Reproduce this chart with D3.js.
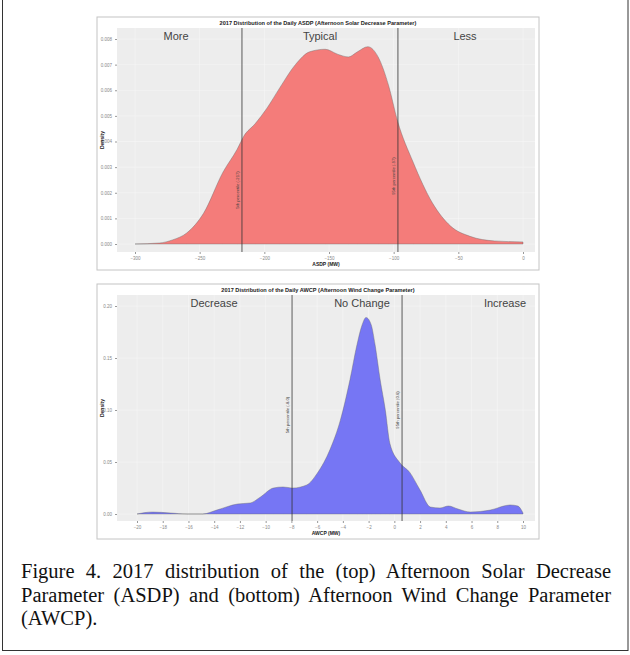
<!DOCTYPE html>
<html>
<head>
<meta charset="utf-8">
<script src="https://cdn.jsdelivr.net/npm/d3@7"></script>
<style>
  body { margin: 0; background: #fff; }
  svg { display: block; }
  .tick text { fill: #888; }
</style>
</head>
<body>
<div id="chart"></div>
<script>
// ASDP density (top panel), MW vs density
const asdpX = [-300, -281, -271, -260, -247, -232, -221, -216, -207, -198, -188, -176, -165, -153, -143, -135, -128, -120, -112, -104, -97, -85, -70, -56, -41, -22, 0];
const asdpY = [0.0000, 0.00004, 0.00016, 0.00043, 0.0012, 0.0028, 0.0037, 0.0042, 0.0047, 0.0053, 0.0061, 0.0070, 0.0075, 0.0076, 0.0074, 0.0073, 0.0075, 0.0077, 0.0073, 0.0062, 0.0048, 0.0032, 0.0016, 0.0007, 0.0003, 0.00012, 0.00008];
const asdpXTicks = [-300, -250, -200, -150, -100, -50, 0];
const asdpYTicks = [0, 0.001, 0.002, 0.003, 0.004, 0.005, 0.006, 0.007, 0.008];
const asdpPct = [-217.3, -96.7];
const asdpPctLabels = ['5th percentile (-217)', '95th percentile (-97)'];
const asdpZones = ['More', 'Typical', 'Less'];

// AWCP density (bottom panel)
const awcpX = [-20, -18.8, -17.4, -16.1, -14.9, -13.8, -12.2, -11.2, -10.4, -9.4, -8.65, -7.9, -6.8, -6.0, -5.0, -4.2, -3.45, -2.9, -2.5, -2.2, -1.8, -1.5, -1.1, -0.7, -0.35, 0.45, 1.2, 2.0, 2.8, 3.55, 4.2, 4.95, 5.9, 7.45, 9.0, 9.6, 10];
const awcpY = [0, 0.0019, 0.001, 0, 0, 0.0038, 0.0096, 0.0106, 0.0164, 0.025, 0.026, 0.025, 0.028, 0.039, 0.062, 0.090, 0.129, 0.163, 0.182, 0.189, 0.182, 0.163, 0.129, 0.100, 0.068, 0.049, 0.040, 0.023, 0.0067, 0.0058, 0.0077, 0.0048, 0.0019, 0.0038, 0.0087, 0.0077, 0.001];
const awcpXTicks = d3.range(-20, 11, 2);
const awcpYTicks = [0, 0.05, 0.10, 0.15, 0.20];
const awcpPct = [-7.95, 0.6];
const awcpPctLabels = ['5th percentile (-8.0)', '95th percentile (0.6)'];
const awcpZones = ['Decrease', 'No Change', 'Increase'];

const captionLines = [
  'Figure 4. 2017 distribution of the (top) Afternoon Solar Decrease',
  'Parameter (ASDP) and (bottom) Afternoon Wind Change Parameter',
  '(AWCP).'
];

const width = 630, height = 655;
const sans = 'Liberation Sans, Arial, sans-serif';
const svg = d3.select('#chart').append('svg')
  .attr('width', width).attr('height', height);

// figure frame
svg.append('rect')
  .attr('x', 2.5).attr('y', -1).attr('width', 625.5).attr('height', 651.5)
  .attr('fill', 'none').attr('stroke', '#333').attr('stroke-width', 1);

// draws one ggplot-like density panel
function drawPanel(cfg) {
  const { top, bottom, xs, ys, xTicks, yTicks, pct, pctLabels, pctY, zones, zoneX,
          title, xLabel, fill, yFormat, xPx, yPx } = cfg;
  const box = { left: 97, right: 539 };
  const plot = { left: 117, right: 535, top: top + 11, bottom: bottom - 18 };

  svg.append('rect')
    .attr('x', box.left).attr('y', top).attr('width', box.right - box.left).attr('height', bottom - top)
    .attr('fill', '#fff').attr('stroke', '#c4c4c4').attr('stroke-width', 1);

  svg.append('rect')
    .attr('x', plot.left).attr('y', plot.top)
    .attr('width', plot.right - plot.left).attr('height', plot.bottom - plot.top)
    .attr('fill', '#ededed');

  const x = d3.scaleLinear().domain(d3.extent(xTicks)).range(xPx);
  const y = d3.scaleLinear().domain(d3.extent(yTicks)).range(yPx);

  // gridlines
  const grid = svg.append('g').attr('stroke', '#f7f7f7').attr('stroke-width', 0.6);
  grid.selectAll('.gx').data(xTicks).join('line')
    .attr('x1', d => x(d)).attr('x2', d => x(d))
    .attr('y1', plot.top).attr('y2', plot.bottom);
  grid.selectAll('.gy').data(yTicks).join('line')
    .attr('x1', plot.left).attr('x2', plot.right)
    .attr('y1', d => y(d)).attr('y2', d => y(d));

  // density area
  const pts = xs.map((v, i) => [v, ys[i]]);
  const area = d3.area()
    .x(d => x(d[0])).y0(y(0)).y1(d => y(d[1]))
    .curve(d3.curveMonotoneX);
  svg.append('path').datum(pts)
    .attr('d', area)
    .attr('fill', fill)
    .attr('stroke', '#666').attr('stroke-width', 0.4);

  // percentile lines
  svg.selectAll(null).data(pct).join('line')
    .attr('x1', d => x(d)).attr('x2', d => x(d))
    .attr('y1', plot.top).attr('y2', plot.bottom)
    .attr('stroke', '#333').attr('stroke-width', 0.8);

  svg.selectAll(null).data(pct).join('text')
    .attr('transform', (d, i) => `translate(${x(d) - 3},${pctY[i]}) rotate(-90)`)
    .attr('text-anchor', 'middle')
    .attr('font-family', sans)
    .attr('font-size', 4.2).attr('fill', '#444')
    .text((d, i) => pctLabels[i]);

  // zone labels
  svg.selectAll(null).data(zones).join('text')
    .attr('x', (d, i) => zoneX[i]).attr('y', plot.top + 12)
    .attr('text-anchor', 'middle')
    .attr('font-family', sans)
    .attr('font-size', 11).attr('fill', '#444')
    .text(d => d);

  // axes
  const xAxis = svg.append('g')
    .attr('transform', `translate(0,${plot.bottom})`)
    .call(d3.axisBottom(x).tickValues(xTicks).tickSize(2).tickPadding(3));
  xAxis.select('.domain').remove();
  xAxis.selectAll('line').attr('stroke', '#999');
  xAxis.selectAll('text').attr('font-size', 4.5).attr('font-family', sans);

  const yAxis = svg.append('g')
    .attr('transform', `translate(${plot.left},0)`)
    .call(d3.axisLeft(y).tickValues(yTicks).tickSize(2).tickPadding(3).tickFormat(yFormat));
  yAxis.select('.domain').remove();
  yAxis.selectAll('line').attr('stroke', '#999');
  yAxis.selectAll('text').attr('font-size', 4.5).attr('font-family', sans);

  // titles
  svg.append('text')
    .attr('x', 318).attr('y', top + 8)
    .attr('text-anchor', 'middle')
    .attr('font-family', sans)
    .attr('font-size', 5.6).attr('font-weight', 'bold').attr('fill', '#222')
    .text(title);

  svg.append('text')
    .attr('x', 326).attr('y', bottom - 4)
    .attr('text-anchor', 'middle')
    .attr('font-family', sans)
    .attr('font-size', 5).attr('font-weight', 'bold').attr('fill', '#222')
    .text(xLabel);

  svg.append('text')
    .attr('transform', `translate(${box.left + 7},${(plot.top + plot.bottom) / 2}) rotate(-90)`)
    .attr('text-anchor', 'middle')
    .attr('font-family', sans)
    .attr('font-size', 5).attr('font-weight', 'bold').attr('fill', '#222')
    .text('Density');
}

drawPanel({
  top: 17, bottom: 270,
  xs: asdpX, ys: asdpY, xTicks: asdpXTicks, yTicks: asdpYTicks,
  xPx: [135, 523], yPx: [244, 39],
  pct: asdpPct, pctLabels: asdpPctLabels, pctY: [190, 176],
  zones: asdpZones, zoneX: [176, 320, 465],
  title: '2017 Distribution of the Daily ASDP (Afternoon Solar Decrease Parameter)',
  xLabel: 'ASDP (MW)', fill: '#f47c7a', yFormat: d3.format('.3f')
});

drawPanel({
  top: 284, bottom: 539,
  xs: awcpX, ys: awcpY, xTicks: awcpXTicks, yTicks: awcpYTicks,
  xPx: [137, 523], yPx: [514, 306],
  pct: awcpPct, pctLabels: awcpPctLabels, pctY: [415, 410],
  zones: awcpZones, zoneX: [214, 362, 505],
  title: '2017 Distribution of the Daily AWCP (Afternoon Wind Change Parameter)',
  xLabel: 'AWCP (MW)', fill: '#7676f4', yFormat: d3.format('.2f')
});

// caption, justified by stretching the word spacing on the first two lines
const capWidth = 590;
svg.selectAll(null).data(captionLines).join('text')
  .attr('x', 21).attr('y', (d, i) => 578 + i * 23.5)
  .attr('font-family', 'Liberation Serif, Times New Roman, serif')
  .attr('font-size', 20.5).attr('fill', '#111')
  .text(d => d)
  .each(function (d, i) {
    if (i > 1) return;
    const gaps = d.split(' ').length - 1;
    const extra = (capWidth - this.getComputedTextLength()) / gaps;
    d3.select(this).attr('word-spacing', extra);
  });
</script>
</body>
</html>
